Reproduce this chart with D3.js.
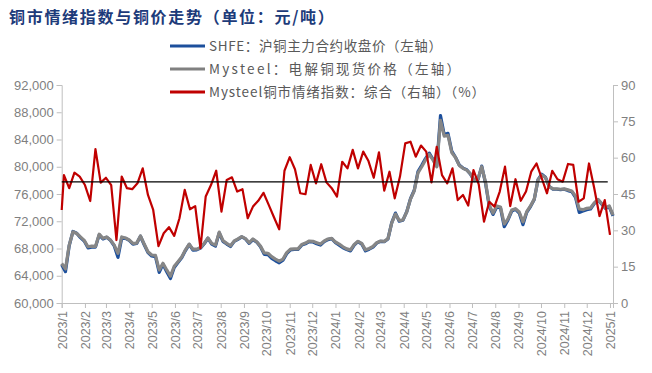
<!DOCTYPE html>
<html>
<head>
<meta charset="utf-8">
<script src="https://cdn.jsdelivr.net/npm/d3@7"></script>
<style>
  body { margin: 0; background: #fff; }
  svg { display: block; }
</style>
</head>
<body>
<svg id="chart" width="652" height="373"></svg>
<script>
// month labels on the x axis
const monthLabels = ["2023/1","2023/2","2023/3","2023/4","2023/5","2023/6","2023/7","2023/8","2023/9","2023/10","2023/11","2023/12",
  "2024/1","2024/2","2024/3","2024/4","2024/5","2024/6","2024/7","2024/8","2024/9","2024/10","2024/11","2024/12","2025/1"];
const leftTicks = [60000, 64000, 68000, 72000, 76000, 80000, 84000, 88000, 92000];
const rightTicks = [0, 15, 30, 45, 60, 75, 90];

// price samples every 5 days from 2023-01-01
const mysteelSpot = [65800,65000,68500,70450,70200,69700,69200,68250,68350,68300,
  70100,69500,69700,69250,68500,67300,69700,69550,69250,68750,
  68800,69850,68650,67530,67050,67000,64850,65830,64850,63950,
  65400,66060,66750,67800,68650,67900,67900,68150,68760,69550,
  68760,68500,70400,69150,68760,68400,69100,69400,69750,69450,
  68850,69400,69000,68350,67350,67300,66800,66450,66150,66450,
  67400,67900,67950,67950,68600,68800,69100,69050,68850,68650,
  69100,69400,69500,68950,68650,68250,67950,67800,68600,69050,
  68750,67800,68000,68300,68850,69100,69050,69450,71750,73050,
  72100,72200,73350,75250,76450,79100,80000,81000,81800,81000,
  80000,86800,84500,84600,82100,81350,80200,79770,79500,78950,
  78050,78200,80000,77750,74400,73200,74250,74100,71600,72350,
  73650,73850,73350,71900,73400,74250,75250,78050,78800,78400,
  77100,76750,76750,76700,76750,76600,76450,75700,73800,73700,
  73900,73950,74700,75200,74600,74000,74250,72900];
const shfeClose = [65600,64600,68400,70500,70250,69600,69100,68100,68200,68200,
  70000,69400,69650,69200,68400,66700,69500,69500,69200,68650,
  68750,69800,68550,67400,66900,66800,64500,65700,64600,63600,
  65200,65950,66650,67700,68600,67750,67800,68050,68700,69500,
  68650,68350,70300,69050,68650,68300,69050,69350,69700,69400,
  68750,69300,68950,68250,67150,67100,66550,66200,65900,66300,
  67250,67800,67850,67850,68500,68700,69000,68950,68700,68500,
  69000,69300,69450,68850,68500,68100,67850,67650,68500,69000,
  68650,67650,67900,68200,68800,69050,69000,69400,71800,73200,
  72000,72150,73400,75300,76550,79300,80200,81200,82000,81100,
  80100,87500,84700,84900,82300,81400,80250,79800,79550,78900,
  77950,78100,80100,77600,74200,73000,74100,73950,71200,72200,
  73500,73750,73200,71500,73300,74150,75200,78100,78900,78450,
  77100,76700,76700,76650,76700,76500,76350,75500,73300,73500,
  73700,73800,74600,75150,74500,73900,74100,72800];
// weekly sentiment index (%)
const sentiment = [38.4,52.8,47.4,53.8,52.2,48.7,42.1,63.5,49.7,51.7,
  48.7,26,52.2,47.4,47,49.4,55.6,44.6,38.4,23.5,
  28.8,31.3,27.7,35,46.7,38.7,40,22.6,44,48.7,
  54.6,37.7,50.8,51.9,46,47,35,39.8,42.2,45.5,
  40.5,35.4,30.4,54.6,60.2,55.2,45.3,44.9,57,49.4,
  57.3,49.8,47.4,43.9,58.3,55.6,63.2,55.6,62.5,58.6,
  51.7,62.2,46.4,54.2,43.2,52.2,65.9,66.6,60.4,65,
  62.5,49.8,64.5,52.8,49.4,55.6,42.5,44.6,40.2,54.9,
  49,33.6,41.8,39.8,46,56.3,40,51.1,42.2,46,
  54.2,57.6,51.5,45.3,54.6,51.1,50.1,57.4,57,41.8,
  43.2,57.6,47.4,35.9,42.5,28.1];
const threshold = 50;

const legendItems = [
  { label: "SHFE：沪铜主力合约收盘价（左轴）", color: "#1c4f9c", len: 233 },
  { label: "Mysteel：电解铜现货价格（左轴）", color: "#808080", len: 251 },
  { label: "Mysteel铜市情绪指数：综合（右轴）（%）", color: "#c00000", len: 276 }
];

const svg = d3.select("#chart");
const plot = { left: 61.7, right: 613, top: 85, bottom: 303 };
const axisColor = "#bfbfbf";
const labelColor = "#7f7f7f";
const numFont = "'Liberation Sans', Arial, sans-serif";
const cjkFont = "'Noto Sans CJK SC', sans-serif";

const parseMonth = d3.timeParse("%Y/%m");
const startDay = new Date(2023, 0, 1);
const x = d3.scaleTime()
  .domain([startDay, new Date(2025, 0, 5)])
  .range([plot.left, plot.right]);
const yLeft = d3.scaleLinear().domain([60000, 92000]).range([plot.bottom, plot.top]);
const yRight = d3.scaleLinear().domain([0, 90]).range([plot.bottom, plot.top]);

const priceDates = mysteelSpot.map((_, i) => d3.timeDay.offset(startDay, 5 * i));
const sentDates = sentiment.map((_, i) => i === 0 ? startDay : d3.timeDay.offset(new Date(2023, 0, 4), 7 * (i - 1)));

// title
svg.append("text")
  .attr("x", 9).attr("y", 23)
  .attr("font-family", cjkFont)
  .attr("font-weight", "bold")
  .attr("font-size", 16)
  .attr("letter-spacing", 1.7)
  .attr("fill", "#1d3b7a")
  .text("铜市情绪指数与铜价走势（单位：元/吨）");

// legend
legendItems.forEach((d, i) => {
  const ly = 46 + i * 23;
  svg.append("line")
    .attr("x1", 170).attr("x2", 205).attr("y1", ly).attr("y2", ly)
    .attr("stroke", d.color).attr("stroke-width", 3);
  svg.append("text")
    .attr("x", 209).attr("y", ly + 5)
    .attr("font-family", cjkFont)
    .attr("font-size", 13.5)
    .attr("fill", "#595959")
    .attr("textLength", d.len)
    .attr("lengthAdjust", "spacing")
    .text(d.label);
});

// left axis
const gLeft = svg.append("g")
  .attr("transform", `translate(${plot.left},0)`)
  .call(d3.axisLeft(yLeft).tickValues(leftTicks).tickFormat(d3.format(",")).tickSize(5).tickPadding(3));
// right axis
const gRight = svg.append("g")
  .attr("transform", `translate(${plot.right},0)`)
  .call(d3.axisRight(yRight).tickValues(rightTicks).tickSize(5).tickPadding(3));
// bottom axis
const gBottom = svg.append("g")
  .attr("transform", `translate(0,${plot.bottom})`)
  .call(d3.axisBottom(x).tickValues(monthLabels.map(parseMonth)).tickFormat(d3.timeFormat("%Y/%-m")).tickSize(5));

[gLeft, gRight, gBottom].forEach(g => {
  g.select(".domain").attr("stroke", axisColor);
  g.selectAll(".tick line").attr("stroke", axisColor);
  g.selectAll("text").attr("fill", labelColor).attr("font-family", numFont).attr("font-size", 13);
});

gBottom.selectAll("text")
  .attr("transform", "rotate(-90)")
  .attr("text-anchor", "end")
  .attr("x", -8)
  .attr("y", 0)
  .attr("dy", "0.35em")
  .attr("font-size", 12.5);

// lines
const lineLeft = d3.line().x(d => x(d[0])).y(d => yLeft(d[1]));
const lineRight = d3.line().x(d => x(d[0])).y(d => yRight(d[1]));

svg.append("path")
  .datum(d3.zip(priceDates, shfeClose))
  .attr("d", lineLeft)
  .attr("fill", "none").attr("stroke", "#1c4f9c").attr("stroke-width", 3.2)
  .attr("stroke-linejoin", "round");

svg.append("path")
  .datum(d3.zip(priceDates, mysteelSpot))
  .attr("d", lineLeft)
  .attr("fill", "none").attr("stroke", "#868686").attr("stroke-width", 3.2)
  .attr("stroke-linejoin", "round");

svg.append("path")
  .datum(d3.zip(sentDates, sentiment))
  .attr("d", lineRight)
  .attr("fill", "none").attr("stroke", "#c00000").attr("stroke-width", 2.2)
  .attr("stroke-linejoin", "round");

// 50 line
svg.append("line")
  .attr("x1", plot.left).attr("x2", x(new Date(2024, 11, 29)))
  .attr("y1", yRight(threshold)).attr("y2", yRight(threshold))
  .attr("stroke", "#000").attr("stroke-width", 1.3);
</script>
</body>
</html>
